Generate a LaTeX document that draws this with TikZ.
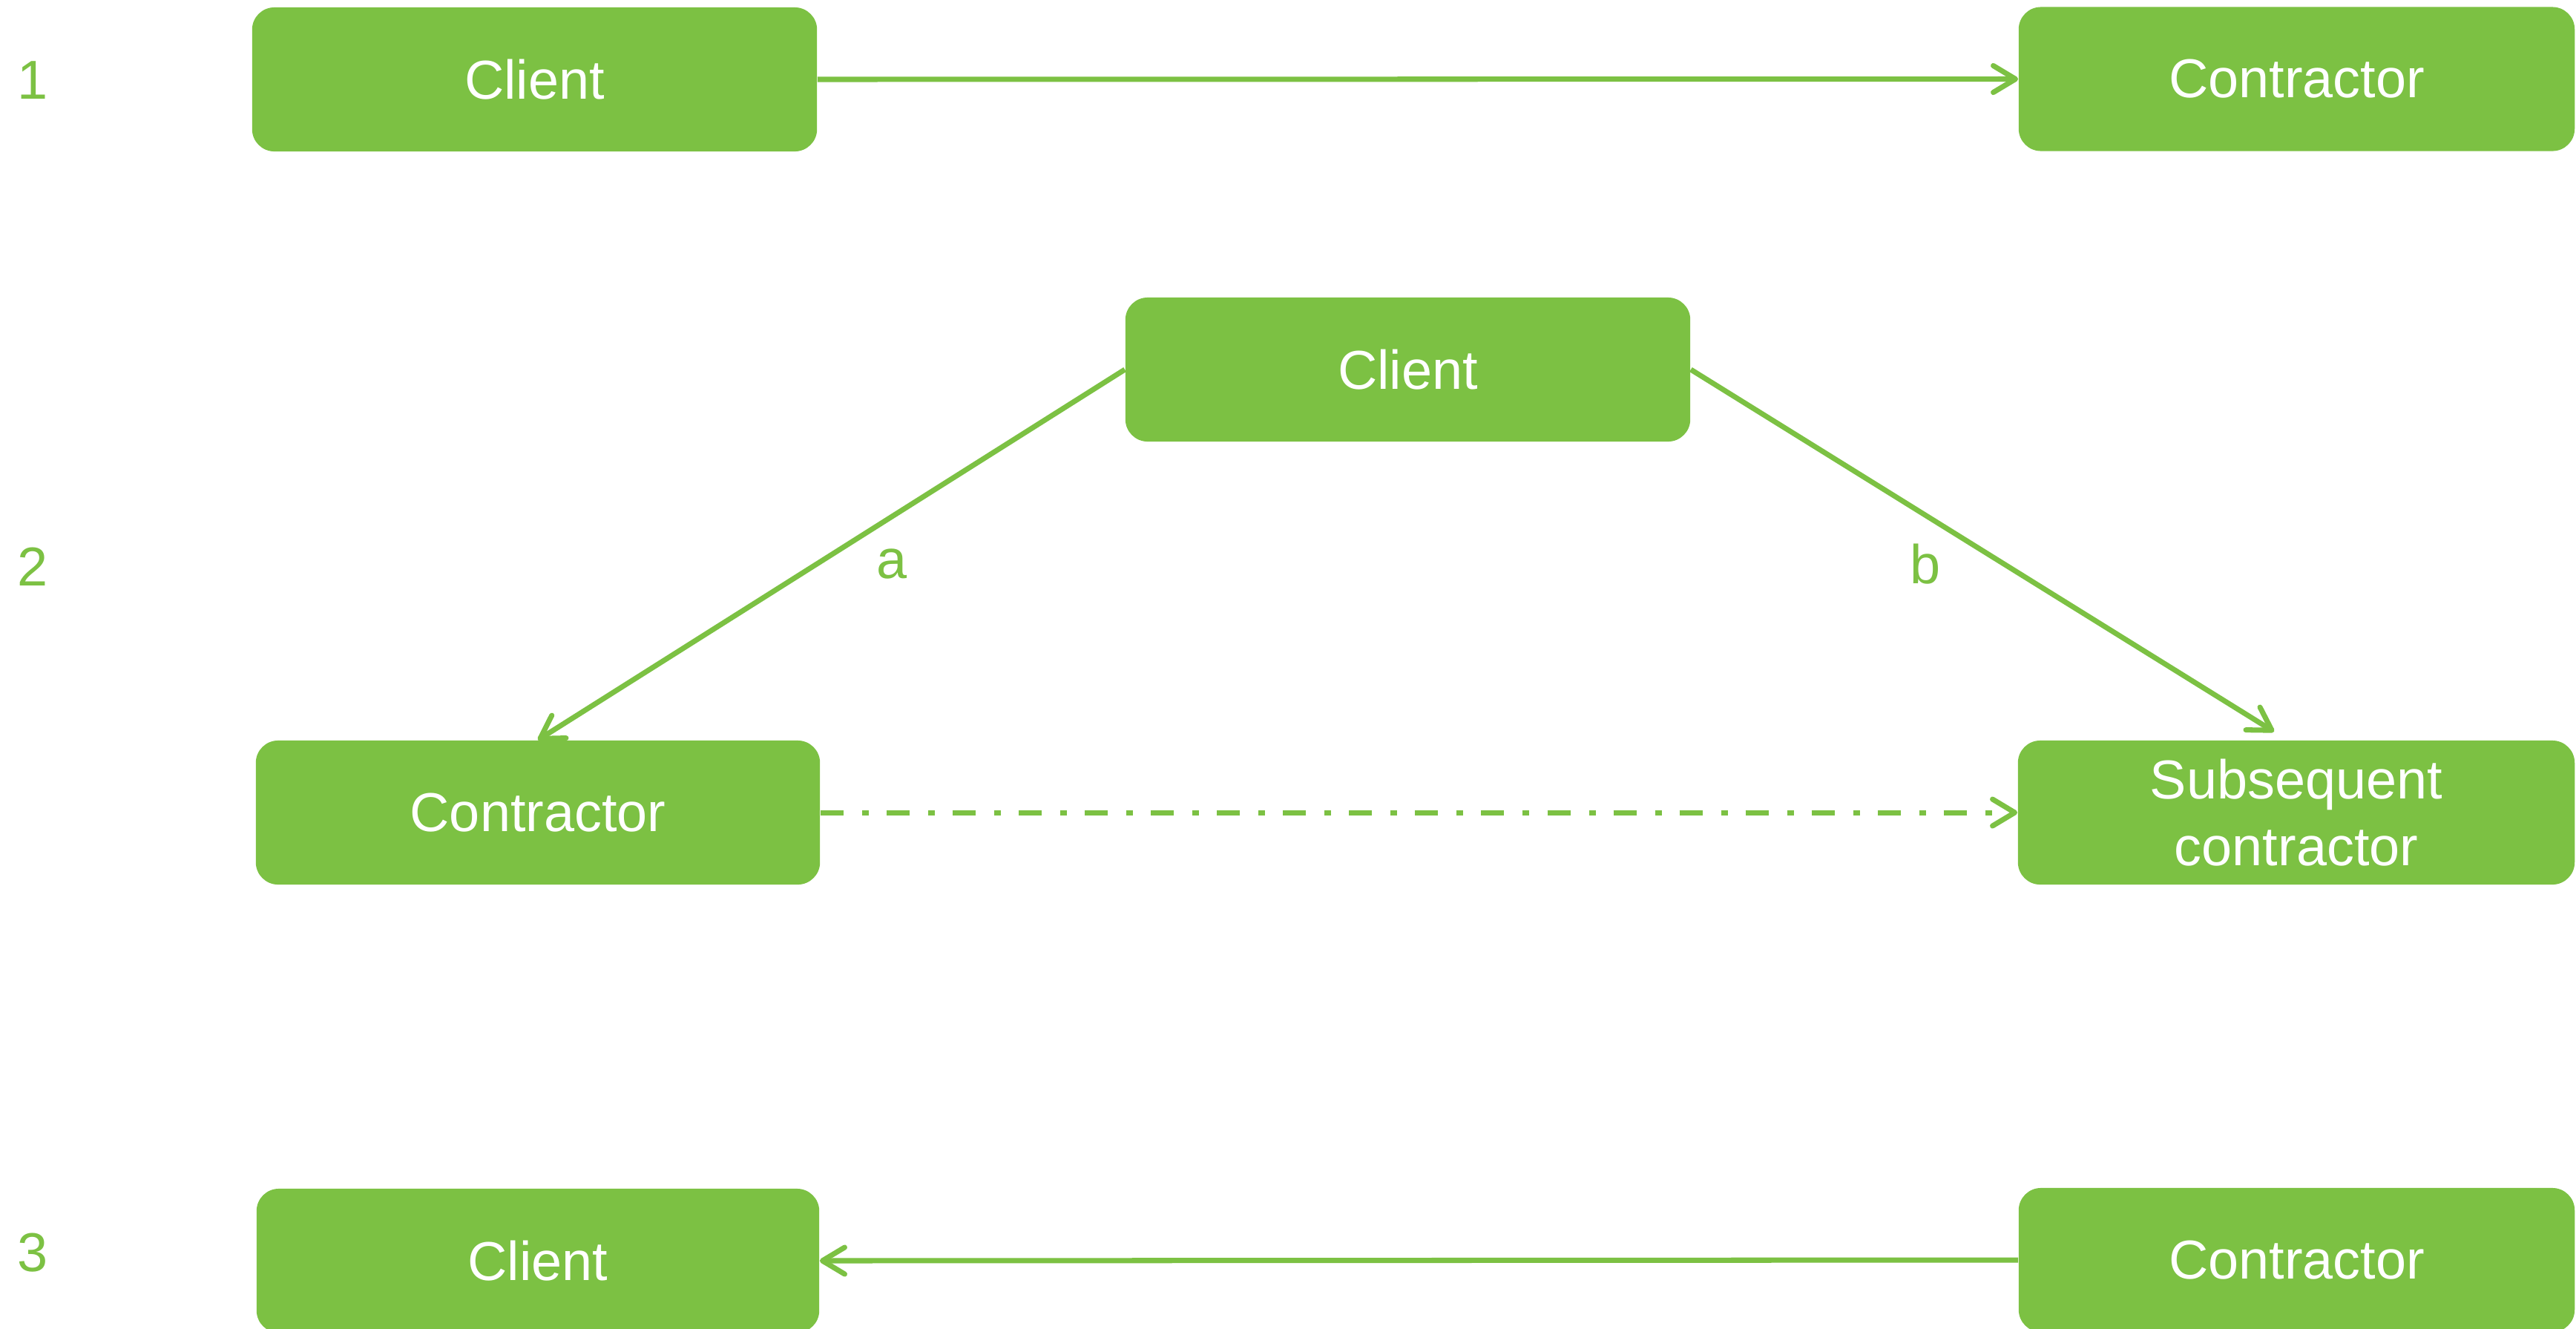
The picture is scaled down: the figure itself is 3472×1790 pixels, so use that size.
\documentclass[tikz,border=0pt]{standalone}
\usepackage{fontspec}
\setmainfont{Liberation Sans}
\usetikzlibrary{arrows.meta}
\definecolor{leaf}{RGB}{124,193,67}
\tikzset{
  box/.style={fill=leaf, rounded corners=0.3cm, inner sep=0pt, text=white,
    font=\fontsize{21}{25.6}\selectfont, align=center,
    minimum height=1.94cm},
  tag/.style={text=leaf, inner sep=0pt, font=\fontsize{21}{25.6}\selectfont},
  link/.style={draw=leaf, line width=2pt,
    -{Straight Barb[length=0.3cm, width=0.36cm, round]}},
  dashdot/.style={link, dash pattern=on 0.31cm off 0.25cm on 0.09cm off 0.24cm}
}
\begin{document}
\begin{tikzpicture}[x=0.01cm, y=-0.01cm]
  \clip (0,0) rectangle (3472,1790);
  \fill[white] (0,0) rectangle (3472,1790);

  % row labels
  \node[tag] (n1) at (44,108) {1};
  \node[tag] (n2) at (44,764) {2};
  \node[tag] (n3) at (44,1688) {3};

  % case 1
  \node[box, minimum width=7.61cm] (c1) at (720.5,107) {Client};
  \node[box, minimum width=7.49cm] (k1) at (3095.5,106.5) {Contractor};
  \draw[link] (c1.east) -- (k1.west);

  % case 2
  \node[box, minimum width=7.61cm] (c2) at (1897.5,498) {Client};
  \node[box, minimum width=7.60cm] (k2) at (725,1095) {Contractor};
  \node[box, minimum width=7.50cm] (s2) at (3095,1095) {Subsequent\\contractor};
  \coordinate (btip) at (3065,986);
  \draw[link] (c2.west) -- (k2.north);
  \draw[link] (c2.east) -- (btip);
  \draw[dashdot] (k2.east) -- (s2.west);
  \node[tag] (la) at (1202,760) {a};
  \node[tag] (lb) at (2595,760) {b};

  % case 3
  \node[box, minimum width=7.58cm] (c3) at (725,1699) {Client};
  \node[box, minimum width=7.49cm] (k3) at (3095.5,1698) {Contractor};
  \draw[link] (k3.west) -- (c3.east);
\end{tikzpicture}
\end{document}
